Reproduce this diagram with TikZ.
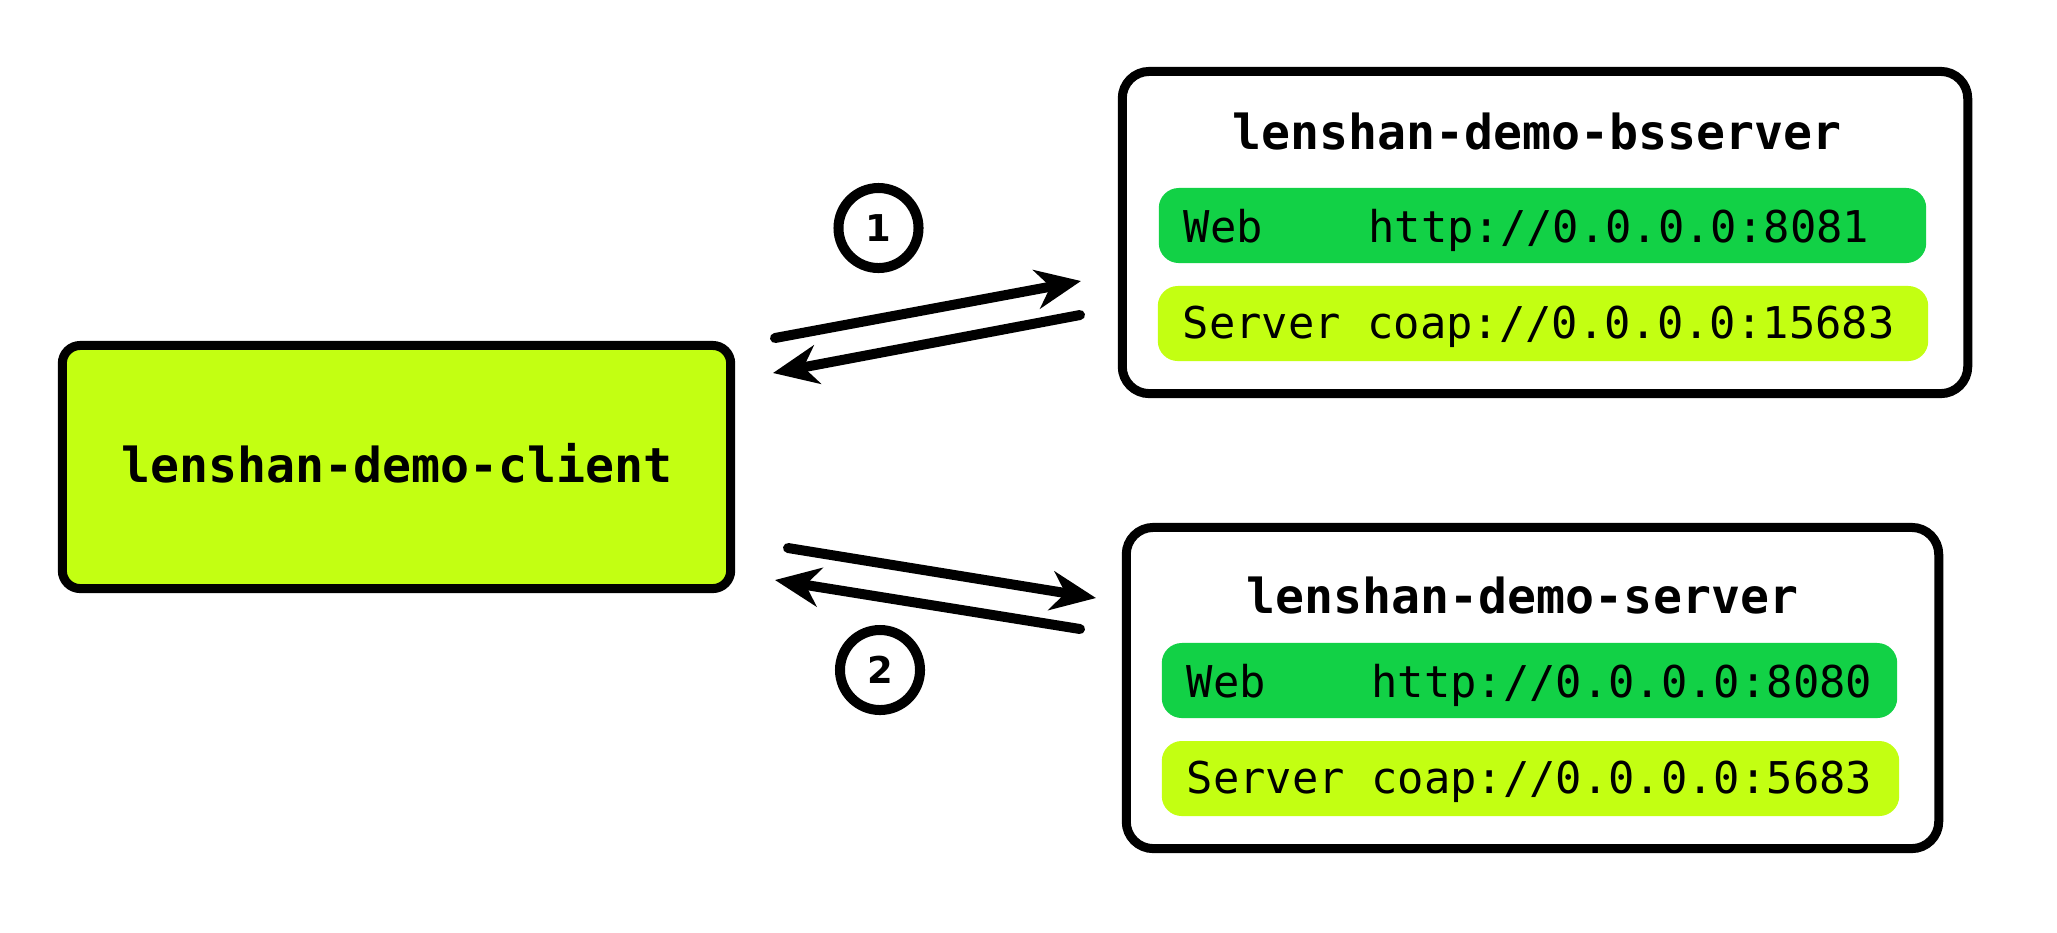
\documentclass[tikz,border=0pt]{standalone}
\usepackage{fontspec}
\setmonofont{DejaVu Sans Mono}
\newfontfamily\digitfont{DejaVu Sans}
\usetikzlibrary{arrows.meta,calc}
\definecolor{limefill}{HTML}{C3FF12}
\definecolor{webgreen}{HTML}{12D146}
\newcommand\monosp{\hspace*{0.60205em}}
\tikzset{
  box/.style={draw=black, line width=0.09cm, inner sep=0pt},
  clientbox/.style={box, fill=limefill, rounded corners=0.18cm},
  serverbox/.style={box, fill=white, rounded corners=0.27cm},
  bar/.style={rounded corners=0.2cm, inner xsep=0.25cm, inner ysep=0pt, align=left,
              font=\ttfamily\fontsize{12.45pt}{14pt}\selectfont, text depth=0pt},
  webbar/.style={bar, fill=webgreen},
  coapbar/.style={bar, fill=limefill},
  titletext/.style={font=\ttfamily\bfseries\fontsize{13.7pt}{16pt}\selectfont, anchor=base, inner sep=0pt},
  stepnum/.style={circle, draw=black, line width=0.1cm, minimum size=0.8cm, inner sep=0pt,
                  font=\digitfont\bfseries\fontsize{10.5pt}{12pt}\selectfont},
  flow/.style={line width=0.1cm, line cap=round, -{Stealth[length=0.45cm, width=0.39cm, inset=0.14cm]}}
}
\begin{document}
\begin{tikzpicture}[x=0.01cm, y=-0.01cm]
\useasboundingbox (0,0) rectangle (2057,932);

% client
\node[clientbox, minimum width=6.68cm, minimum height=2.43cm] (client) at (396.5,467) {};
\node[titletext] (clientlabel) at (397,482) {lenshan-demo-client};

% bootstrap server
\node[serverbox, minimum width=8.45cm, minimum height=3.22cm] (bs) at (1545,232.5) {};
\node[titletext] (bstitle) at (1537,149) {lenshan-demo-bsserver};
\node[webbar, minimum width=7.67cm, minimum height=0.75cm, text width=7.17cm, text height=0.33cm] (bsweb) at (1542.5,225.5) {Web\monosp\monosp\monosp\monosp http://0.0.0.0:8081};
\node[coapbar, minimum width=7.70cm, minimum height=0.75cm, text width=7.20cm, text height=0.29cm] (bscoap) at (1543,323.5) {Server\monosp coap://0.0.0.0:15683};

% server
\node[serverbox, minimum width=8.12cm, minimum height=3.21cm] (srv) at (1532.5,688) {};
\node[titletext] (srvtitle) at (1522.5,613) {lenshan-demo-server};
\node[webbar, minimum width=7.35cm, minimum height=0.75cm, text width=6.85cm, text height=0.33cm] (srvweb) at (1529.5,680.5) {Web\monosp\monosp\monosp\monosp http://0.0.0.0:8080};
\node[coapbar, minimum width=7.37cm, minimum height=0.75cm, text width=6.87cm, text height=0.29cm] (srvcoap) at (1530.5,778.5) {Server\monosp coap://0.0.0.0:5683};

% step numbers
\node[stepnum] (n1) at (878.5,228) {1};
\node[stepnum] (n2) at (880,670) {2};

% arrows
\coordinate (p1s) at (775,338);
\coordinate (p1e) at (1081,281);
\coordinate (r1s) at (1080,315);
\coordinate (r1e) at (773,373);
\coordinate (p2s) at (788,548);
\coordinate (p2e) at (1096,598);
\coordinate (r2s) at (1080,629);
\coordinate (r2e) at (775,580);
\draw[flow] (p1s) -- (p1e);
\draw[flow] (r1s) -- (r1e);
\draw[flow] (p2s) -- (p2e);
\draw[flow] (r2s) -- (r2e);
\end{tikzpicture}
\end{document}
